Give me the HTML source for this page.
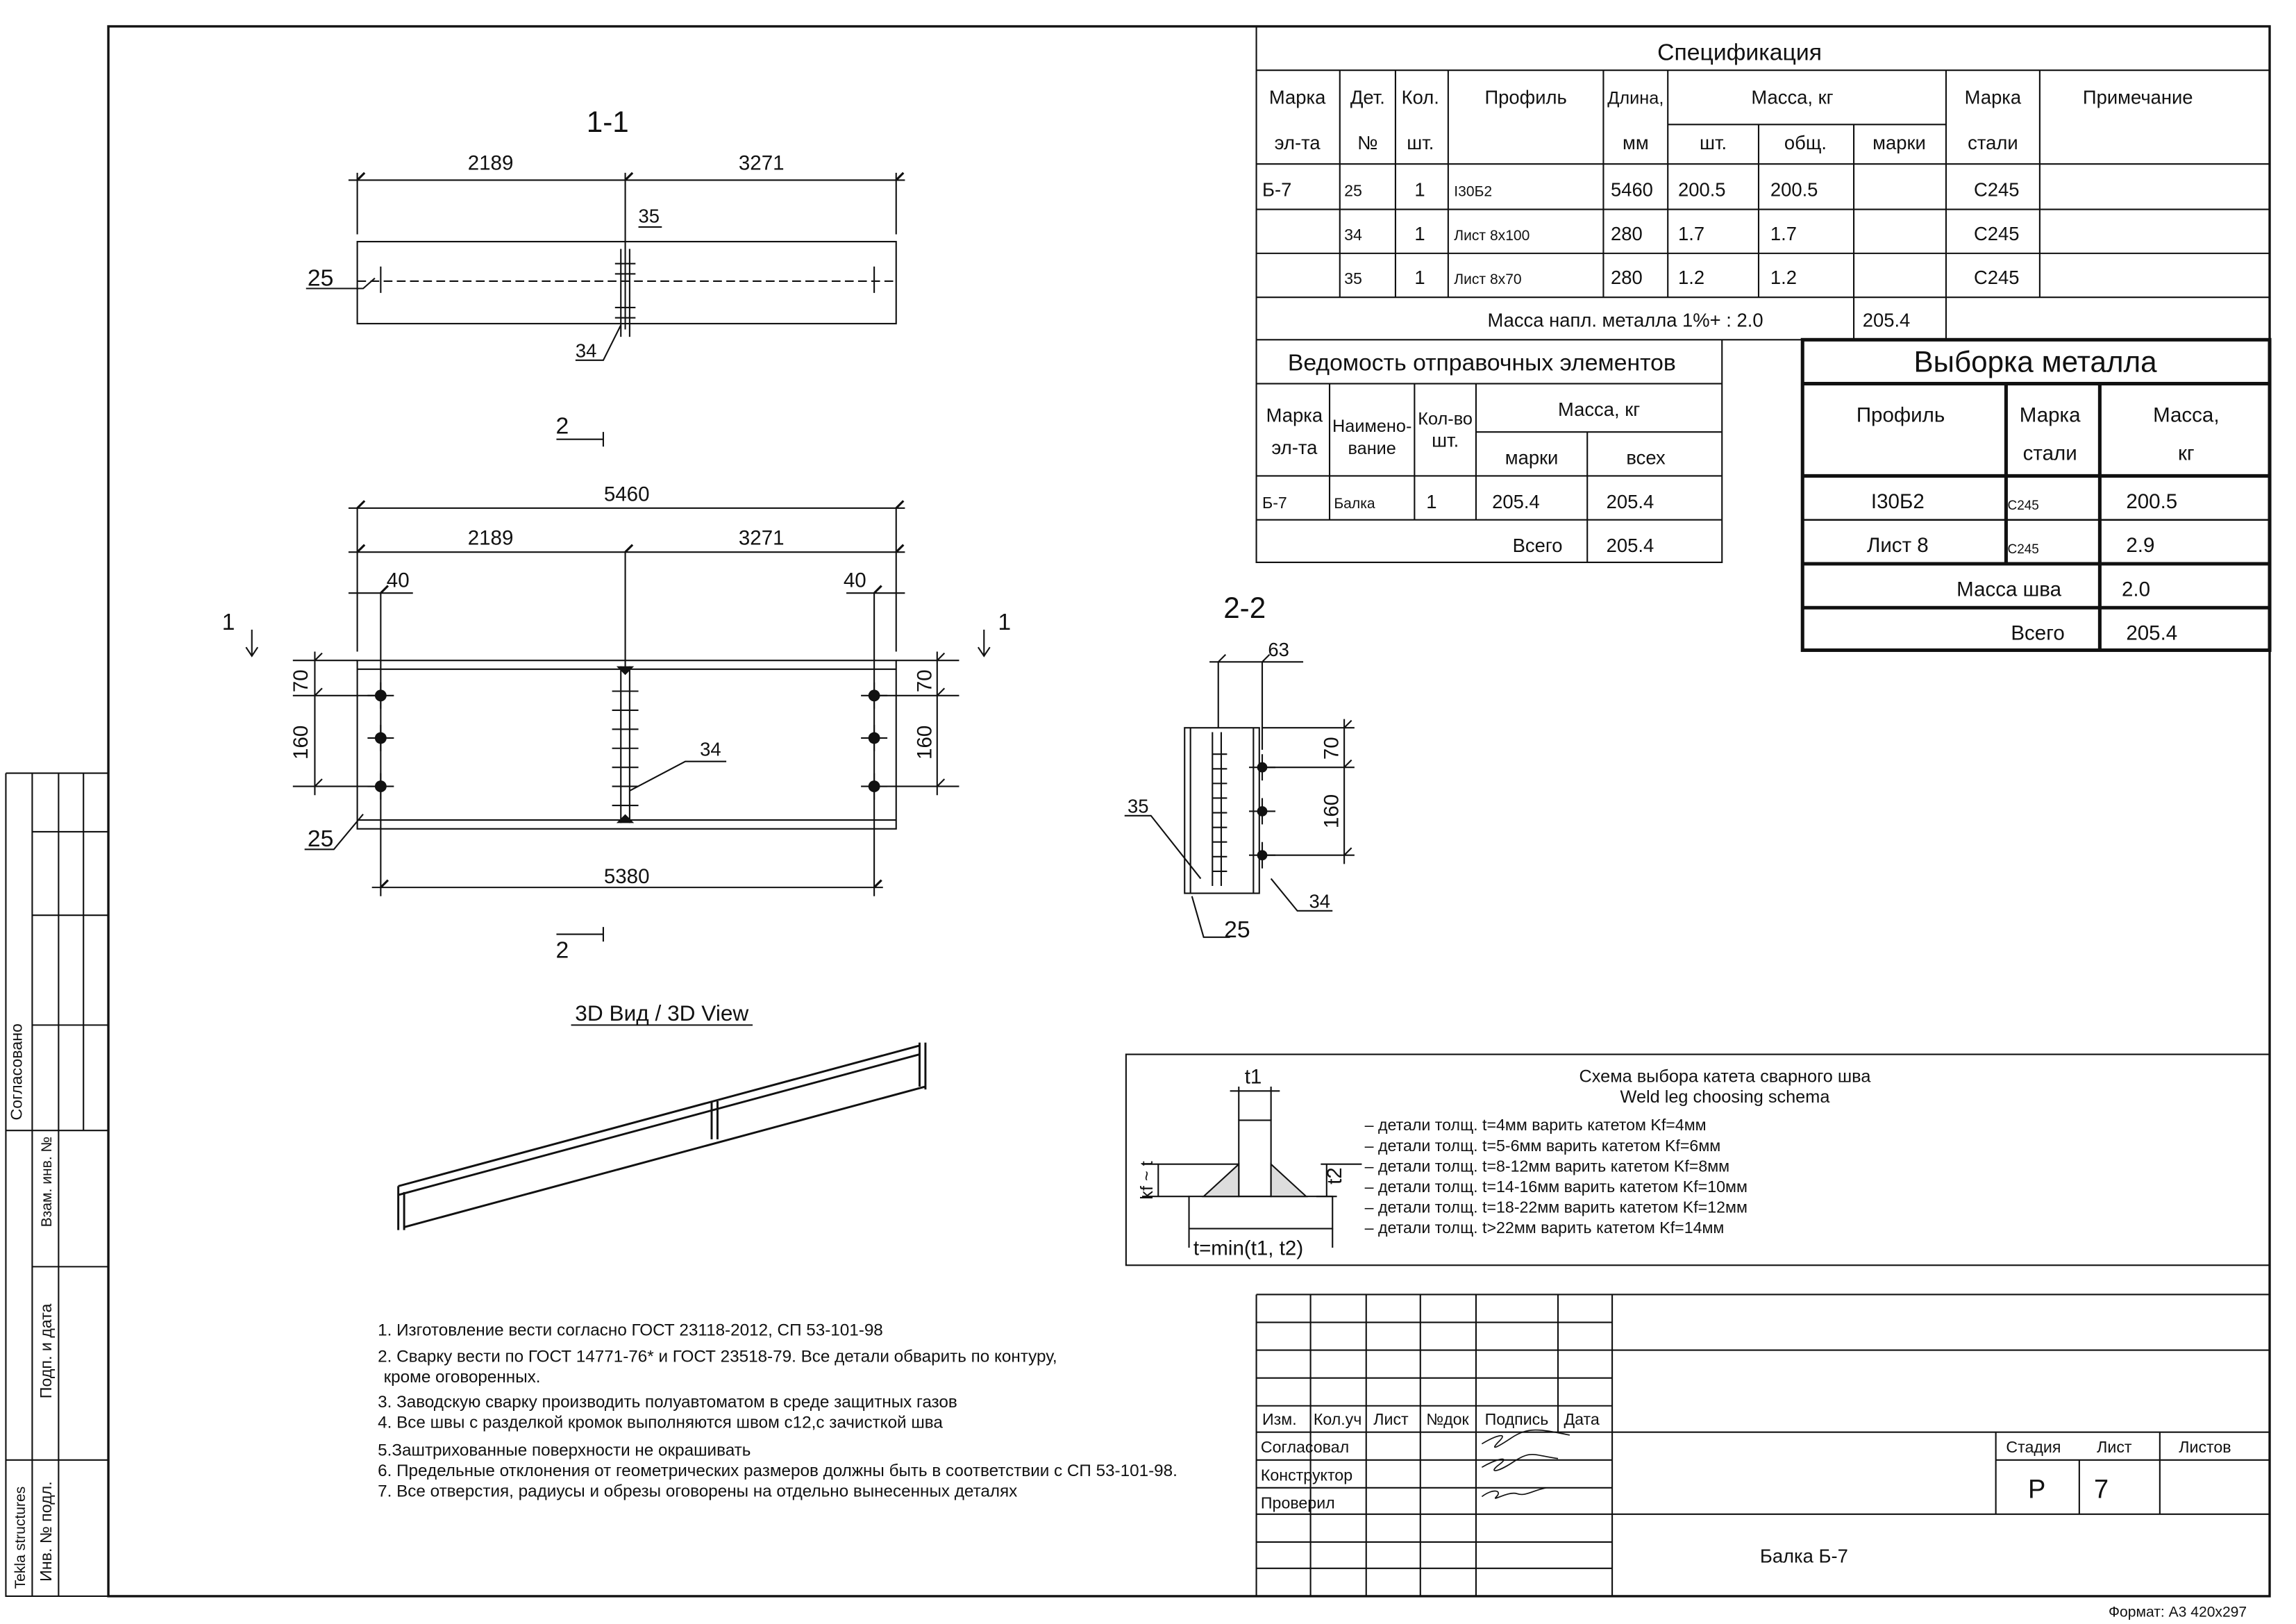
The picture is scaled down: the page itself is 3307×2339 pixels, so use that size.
<!DOCTYPE html>
<html><head><meta charset="utf-8"><style>
html,body{margin:0;padding:0;background:#fff}
svg{display:block}
text{font-family:"Liberation Sans","DejaVu Sans",sans-serif;fill:#111}
</style></head><body>
<svg width="3307" height="2339" viewBox="0 0 1568 1109" preserveAspectRatio="none" xmlns="http://www.w3.org/2000/svg">
<rect x="0" y="0" width="1568" height="1109" fill="#fff"/>
<g stroke="#111" fill="none" stroke-width="1">
<rect x="74" y="18" width="1476" height="1072" stroke-width="1.6"/>
<path d="M4 528H74M4 528V1090H74M22 528V1090M40 528V1090M57 528V772M22 568H74M22 625H74M22 700H74M4 772H74M22 865H74M4 997H74"/>
<path d="M858 18V232M858 48H1550M858 112H1550M858 143H1550M858 173H1550M858 203H1550M858 232H1550M1139 85H1329M915 48V203M953 48V203M989 48V203M1095 48V203M1139 48V203M1201 85V203M1266 85V232M1329 48V232M1393 48V203M1266 232V203"/>
<path d="M858 232V384H1176V232M858 262H1176M1008 295H1176M858 325H1176M858 355H1176M908 262V355M966 262V355M1008 262V355M1084 295V384"/>
<g stroke-width="2.4"><rect x="1231" y="232" width="319" height="212"/><path d="M1231 262H1550M1231 325H1550M1231 385H1550M1231 415H1550M1370 262V385M1434 262V444"/><path d="M1231 355H1550" stroke-width="1.2"/></g>
<path d="M858 884H1550M858 884V1090M1101 884V1090M895 884V1090M933 884V1090M970 884V1090M1008 884V1090M1064 884V978M1101 922H1550M1101 978H1550M1101 1034H1550M858 903H1101M858 922H1101M858 941H1101M858 960H1101M858 978H1101M858 997H1101M858 1016H1101M858 1034H1101M858 1053H1101M858 1071H1101M1363 978V1034M1420 997V1034M1475 978V1034M1363 997H1550"/>
<rect x="769" y="720" width="781" height="144"/>
<rect x="812" y="817" width="98" height="22"/><rect x="846" y="765" width="22" height="52"/>
<path d="M846 795L822 817H846ZM868 795L892 817H868Z" fill="#ddd"/>
<path d="M846 742V765M868 742V765M840 745H874M780 817H812M780 795H846M791 795V817M906 795V817M902 795H930M899 817H913M812 839V852M910 839V852"/>
<rect x="244" y="165" width="368" height="56"/>
<path d="M244 192H612" stroke-dasharray="6 3"/>
<path d="M244 118V160M612 118V160M427 118V225M238 123H618" />
<path d="M244 123l5-5M612 123l5-5M427 123l5-5" stroke-width="1.5"/>
<path d="M420 180H434M420 187H434M420 210H434M420 217H434M424 170V230M430 170V230"/>
<path d="M260 182V200M597 182V200"/>
<path d="M209 197H248L256 190M393 246H412L424 222M436 155H452"/>
<path d="M380 300H412M412 295V305M380 638H412M412 633V643"/>
<rect x="244" y="451" width="368" height="115"/>
<path d="M244 457H612M244 560H612"/>
<path d="M244 347V445M612 347V445M427 377V457M260 405V612M597 405V612M238 347H618M238 377H618M238 405H282M578 405H618M254 606H603"/>
<path d="M244 347l5-5M612 347l5-5M244 377l5-5M427 377l5-5M612 377l5-5M260 405l5-5M597 405l5-5M260 606l5-5M597 606l5-5" stroke-width="1.5"/>
<path d="M200 451H244M200 475H256M200 537H256M215 445V543M215 451l5-5M215 475l5-5M215 537l5-5"/>
<path d="M612 451H655M600 475H655M600 537H655M640 445V543M640 451l5-5M640 475l5-5M640 537l5-5"/>
<path d="M424 455V562M430 455V562M418 472H436M418 485H436M418 498H436M418 511H436M418 524H436M418 537H436M418 550H436"/>
<path d="M430 540L468 520H496M208 580H228L248 556"/>
<path d="M172 430V448M168 442L172 448L176 442M672 430V448M668 442L672 448L676 442"/>
<path d="M260 466V484M251 475H269M260 495V513M251 504H269M260 528V546M251 537H269M597 466V484M588 475H606M597 495V513M588 504H606M597 528V546M588 537H606"/>
<rect x="809" y="497" width="51" height="113"/>
<path d="M813 497V610M856 497V610M828 500V605M834 500V605"/>
<path d="M828 515H838M828 525H838M828 535H838M828 545H838M828 555H838M828 565H838M828 575H838M828 585H838M828 595H838" />
<path d="M832 452V497M862 452V512M826 452H890M832 452l5-5M862 452l5-5"/>
<path d="M862 497H925M862 524H925M862 584H925M918 491V590M918 497l5-5M918 524l5-5M918 584l5-5"/>
<path d="M862 515V533M853 524H871M862 545V563M853 554H871M862 575V593M853 584H871"/>
<path d="M768 557H786L820 600M840 640H822L814 612M868 600L886 622H910"/>
<g stroke-width="1.4">
<path d="M272 810L628 714M272 816L628 720M276 838L632 742M272 810V840M276 814V840M628 712V742M632 712V744M486 752V778M490 752V778"/>
</g>
<path d="M390 700H514"/>
</g>
<g fill="#111">
<circle cx="260" cy="475" r="4"/><circle cx="260" cy="504" r="4"/><circle cx="260" cy="537" r="4"/>
<circle cx="597" cy="475" r="4"/><circle cx="597" cy="504" r="4"/><circle cx="597" cy="537" r="4"/>
<circle cx="862" cy="524" r="3.5"/><circle cx="862" cy="554" r="3.5"/><circle cx="862" cy="584" r="3.5"/>
<path d="M421 455h12l-6 6zM421 562h12l-6-6z"/>
</g>
<g font-size="13">
<text x="1188" y="41" font-size="16" text-anchor="middle">Спецификация</text>
<text x="886" y="71" text-anchor="middle">Марка</text><text x="886" y="102" text-anchor="middle">эл-та</text>
<text x="934" y="71" text-anchor="middle">Дет.</text><text x="934" y="102" text-anchor="middle">№</text>
<text x="970" y="71" text-anchor="middle">Кол.</text><text x="970" y="102" text-anchor="middle">шт.</text>
<text x="1042" y="71" text-anchor="middle">Профиль</text>
<text x="1117" y="71" text-anchor="middle" font-size="12">Длина,</text><text x="1117" y="102" text-anchor="middle">мм</text>
<text x="1224" y="71" text-anchor="middle">Масса, кг</text>
<text x="1170" y="102" text-anchor="middle">шт.</text><text x="1233" y="102" text-anchor="middle">общ.</text><text x="1297" y="102" text-anchor="middle">марки</text>
<text x="1361" y="71" text-anchor="middle">Марка</text><text x="1361" y="102" text-anchor="middle">стали</text>
<text x="1460" y="71" text-anchor="middle">Примечание</text>
<text x="862" y="134">Б-7</text>
<text x="918" y="134" font-size="11">25</text><text x="918" y="164" font-size="11">34</text><text x="918" y="194" font-size="11">35</text>
<text x="966" y="134">1</text><text x="966" y="164">1</text><text x="966" y="194">1</text>
<text x="993" y="134" font-size="10">I30Б2</text><text x="993" y="164" font-size="10">Лист 8x100</text><text x="993" y="194" font-size="10">Лист 8x70</text>
<text x="1100" y="134">5460</text><text x="1100" y="164">280</text><text x="1100" y="194">280</text>
<text x="1146" y="134">200.5</text><text x="1146" y="164">1.7</text><text x="1146" y="194">1.2</text>
<text x="1209" y="134">200.5</text><text x="1209" y="164">1.7</text><text x="1209" y="194">1.2</text>
<text x="1348" y="134">С245</text><text x="1348" y="164">С245</text><text x="1348" y="194">С245</text>
<text x="1110" y="223" text-anchor="middle">Масса напл. металла 1%+ : 2.0</text><text x="1272" y="223">205.4</text>
<text x="1012" y="253" font-size="16" text-anchor="middle">Ведомость отправочных элементов</text>
<text x="884" y="288" text-anchor="middle">Марка</text><text x="884" y="310" text-anchor="middle">эл-та</text>
<text x="937" y="295" text-anchor="middle" font-size="12">Наимено-</text><text x="937" y="310" text-anchor="middle" font-size="12">вание</text>
<text x="987" y="290" text-anchor="middle" font-size="12">Кол-во</text><text x="987" y="305" text-anchor="middle">шт.</text>
<text x="1092" y="284" text-anchor="middle">Масса, кг</text>
<text x="1046" y="317" text-anchor="middle">марки</text><text x="1124" y="317" text-anchor="middle">всех</text>
<text x="862" y="347" font-size="11">Б-7</text><text x="911" y="347" font-size="10">Балка</text><text x="974" y="347">1</text>
<text x="1019" y="347">205.4</text><text x="1097" y="347">205.4</text>
<text x="1033" y="377">Всего</text><text x="1097" y="377">205.4</text>
<text x="1390" y="254" font-size="20" text-anchor="middle">Выборка металла</text>
<text x="1298" y="288" font-size="14" text-anchor="middle">Профиль</text>
<text x="1400" y="288" font-size="14" text-anchor="middle">Марка</text><text x="1400" y="314" font-size="14" text-anchor="middle">стали</text>
<text x="1493" y="288" font-size="14" text-anchor="middle">Масса,</text><text x="1493" y="314" font-size="14" text-anchor="middle">кг</text>
<text x="1296" y="347" font-size="14" text-anchor="middle">I30Б2</text><text x="1296" y="377" font-size="14" text-anchor="middle">Лист 8</text>
<text x="1371" y="348" font-size="9">С245</text><text x="1371" y="378" font-size="9">С245</text>
<text x="1452" y="347" font-size="14">200.5</text><text x="1452" y="377" font-size="14">2.9</text>
<text x="1372" y="407" font-size="14" text-anchor="middle">Масса шва</text><text x="1449" y="407" font-size="14">2.0</text>
<text x="1410" y="437" font-size="14" text-anchor="end">Всего</text><text x="1452" y="437" font-size="14">205.4</text>
<text x="415" y="90" font-size="20" text-anchor="middle">1-1</text>
<text x="335" y="116" font-size="14" text-anchor="middle">2189</text><text x="520" y="116" font-size="14" text-anchor="middle">3271</text>
<text x="436" y="152" font-size="13">35</text><text x="393" y="244" font-size="13">34</text>
<text x="210" y="195" font-size="16">25</text>
<text x="384" y="296" font-size="16" text-anchor="middle">2</text><text x="384" y="654" font-size="16" text-anchor="middle">2</text>
<text x="428" y="342" font-size="14" text-anchor="middle">5460</text>
<text x="335" y="372" font-size="14" text-anchor="middle">2189</text><text x="520" y="372" font-size="14" text-anchor="middle">3271</text>
<text x="264" y="401" font-size="14">40</text><text x="576" y="401" font-size="14">40</text>
<text x="428" y="603" font-size="14" text-anchor="middle">5380</text>
<text x="478" y="516" font-size="13">34</text><text x="210" y="578" font-size="16">25</text>
<text x="156" y="430" font-size="16" text-anchor="middle">1</text><text x="686" y="430" font-size="16" text-anchor="middle">1</text>
<text transform="translate(210,465) rotate(-90)" font-size="14" text-anchor="middle">70</text>
<text transform="translate(210,507) rotate(-90)" font-size="14" text-anchor="middle">160</text>
<text transform="translate(636,465) rotate(-90)" font-size="14" text-anchor="middle">70</text>
<text transform="translate(636,507) rotate(-90)" font-size="14" text-anchor="middle">160</text>
<text x="850" y="422" font-size="20" text-anchor="middle">2-2</text>
<text x="866" y="448" font-size="13">63</text>
<text transform="translate(914,511) rotate(-90)" font-size="14" text-anchor="middle">70</text>
<text transform="translate(914,554) rotate(-90)" font-size="14" text-anchor="middle">160</text>
<text x="770" y="555" font-size="13">35</text><text x="836" y="640" font-size="16">25</text><text x="894" y="620" font-size="13">34</text>
<text x="452" y="697" font-size="15" text-anchor="middle">3D Вид / 3D View</text>
<text x="1178" y="739" font-size="12" text-anchor="middle">Схема выбора катета сварного шва</text>
<text x="1178" y="753" font-size="12" text-anchor="middle">Weld leg choosing schema</text>
<g font-size="11"><text x="932" y="772">– детали толщ. t=4мм варить катетом Kf=4мм</text>
<text x="932" y="786">– детали толщ. t=5-6мм варить катетом Kf=6мм</text>
<text x="932" y="800">– детали толщ. t=8-12мм варить катетом Kf=8мм</text>
<text x="932" y="814">– детали толщ. t=14-16мм варить катетом Kf=10мм</text>
<text x="932" y="828">– детали толщ. t=18-22мм варить катетом Kf=12мм</text>
<text x="932" y="842">– детали толщ. t&gt;22мм варить катетом Kf=14мм</text></g>
<text x="850" y="740" font-size="14">t1</text>
<text transform="translate(787,806) rotate(-90)" font-size="12" text-anchor="middle">kf ~ t</text>
<text transform="translate(916,803) rotate(-90)" font-size="14" text-anchor="middle">t2</text>
<text x="815" y="857" font-size="14">t=min(t1, t2)</text>
<g font-size="11.5"><text x="258" y="912">1. Изготовление вести согласно ГОСТ 23118-2012, СП 53-101-98</text>
<text x="258" y="930">2. Сварку вести по ГОСТ 14771-76* и ГОСТ 23518-79. Все детали обварить по контуру,</text>
<text x="262" y="944">кроме оговоренных.</text>
<text x="258" y="961">3. Заводскую сварку производить полуавтоматом в среде защитных газов</text>
<text x="258" y="975">4. Все швы с разделкой кромок выполняются швом с12,с зачисткой шва</text>
<text x="258" y="994">5.Заштрихованные поверхности не окрашивать</text>
<text x="258" y="1008">6. Предельные отклонения от геометрических размеров должны быть в соответствии с СП 53-101-98.</text>
<text x="258" y="1022">7. Все отверстия, радиусы и обрезы оговорены на отдельно вынесенных деталях</text></g>
<g font-size="11"><text x="862" y="973">Изм.</text><text x="897" y="973">Кол.уч</text><text x="938" y="973">Лист</text><text x="974" y="973">№док</text><text x="1014" y="973">Подпись</text><text x="1068" y="973">Дата</text>
<text x="861" y="992">Согласовал</text><text x="861" y="1011">Конструктор</text><text x="861" y="1030">Проверил</text>
<text x="1370" y="992">Стадия</text><text x="1432" y="992">Лист</text><text x="1488" y="992">Листов</text></g>
<text x="1391" y="1023" font-size="18" text-anchor="middle">Р</text><text x="1430" y="1023" font-size="18">7</text>
<text x="1232" y="1067" font-size="13" text-anchor="middle">Балка  Б-7</text>
<text x="1440" y="1104" font-size="10">Формат: А3  420x297</text>
<text transform="translate(17,1085) rotate(-90)" font-size="10">Tekla structures</text>
<text transform="translate(35,1080) rotate(-90)" font-size="11">Инв. № подл.</text>
<text transform="translate(35,955) rotate(-90)" font-size="11">Подп. и дата</text>
<text transform="translate(35,838) rotate(-90)" font-size="10">Взам. инв. №</text>
<text transform="translate(15,765) rotate(-90)" font-size="11">Согласовано</text>
</g>
<g stroke="#111" fill="none" stroke-width="0.8">
<path d="M1012 986c10-6 18-8 12-2s-4 6 8-2 20-6 40-2M1012 1002c10-6 20-8 12-2s-2 6 10-2 14-4 30-2M1012 1022c8-6 14-4 10 0s8-4 14-2 10-2 20-4"/>
</g>
</svg>
</body></html>
